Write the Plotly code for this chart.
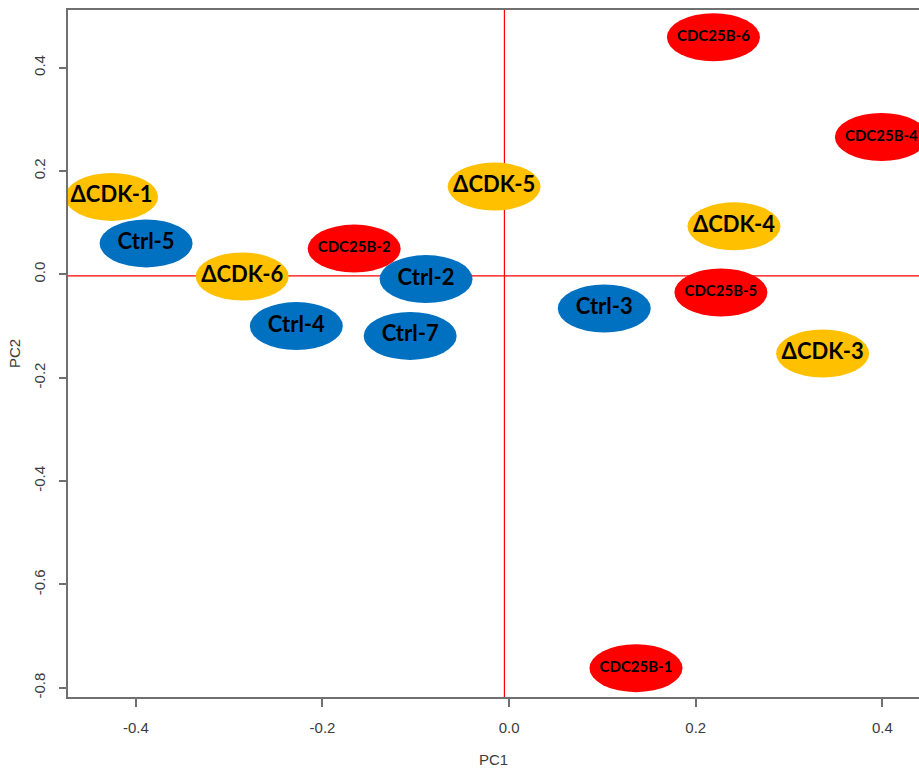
import plotly.graph_objects as go

# --- data ---
sample_names = [
    "ΔCDK-1", "Ctrl-5", "ΔCDK-6", "CDC25B-2", "Ctrl-2", "Ctrl-4", "Ctrl-7",
    "ΔCDK-5", "Ctrl-3", "CDC25B-6", "CDC25B-4", "ΔCDK-4", "CDC25B-5",
    "ΔCDK-3", "CDC25B-1",
]
sample_groups = [
    "dcdk", "ctrl", "dcdk", "cdc25b", "ctrl", "ctrl", "ctrl",
    "dcdk", "ctrl", "cdc25b", "cdc25b", "dcdk", "cdc25b",
    "dcdk", "cdc25b",
]
pc1 = [-0.426, -0.389, -0.286, -0.166, -0.089, -0.228, -0.106,
       -0.016, 0.102, 0.219, 0.399, 0.241, 0.227, 0.336, 0.136]
pc2 = [0.150, 0.060, -0.004, 0.050, -0.009, -0.100, -0.119,
       0.170, -0.066, 0.459, 0.266, 0.093, -0.035, -0.153, -0.762]

# reference lines (abline h / v)
hline_y = -0.003
vline_x = -0.005

x_tickvals = [-0.4, -0.2, 0.0, 0.2, 0.4]
x_ticktext = ["-0.4", "-0.2", "0.0", "0.2", "0.4"]
y_tickvals = [-0.8, -0.6, -0.4, -0.2, 0.0, 0.2, 0.4]
y_ticktext = ["-0.8", "-0.6", "-0.4", "-0.2", "0.0", "0.2", "0.4"]

group_colors = {"ctrl": "#0070C0", "dcdk": "#FFC000", "cdc25b": "#FF0000"}
group_font_size = {"ctrl": 22, "dcdk": 22, "cdc25b": 15}

axis_grey = "#707070"
text_grey = "#3c3c3c"

fig = go.Figure()

# crosshair lines first so the ellipses sit on top of them
shapes = [
    dict(type="line", xref="paper", x0=0, x1=1, yref="y", y0=hline_y, y1=hline_y,
         line=dict(color="#FF0000", width=1.2), layer="below"),
    dict(type="line", xref="x", x0=vline_x, x1=vline_x, yref="paper", y0=0, y1=1,
         line=dict(color="#FF0000", width=1.2), layer="below"),
]
for x, y, g in zip(pc1, pc2, sample_groups):
    shapes.append(dict(
        type="circle", xref="x", yref="y",
        xsizemode="pixel", ysizemode="pixel",
        xanchor=x, yanchor=y,
        x0=-46.5, x1=46.5, y0=-24, y1=24,
        fillcolor=group_colors[g], line=dict(width=0),
        layer="below",
    ))

fig.add_trace(
    go.Scatter(
        x=pc1,
        y=pc2,
        mode="text",
        text=sample_names,
        textposition="middle center",
        textfont=dict(
            family="Lato, 'Open Sans', sans-serif",
            size=[group_font_size[g] for g in sample_groups],
            color="black",
            weight="bold",
        ),
        hoverinfo="text",
        showlegend=False,
    )
)

fig.update_layout(
    width=919,
    height=769,
    margin=dict(l=68, r=0, t=10, b=72),
    paper_bgcolor="white",
    plot_bgcolor="white",
    shapes=shapes,
    xaxis=dict(
        range=[-0.4727, 0.4393],
        showgrid=False,
        zeroline=False,
        showline=True,
        mirror=True,
        linecolor=axis_grey,
        linewidth=1.5,
        ticks="outside",
        ticklen=8,
        tickwidth=1.5,
        tickcolor=axis_grey,
        tickvals=x_tickvals,
        ticktext=x_ticktext,
        ticklabelstandoff=8,
        tickfont=dict(family="Liberation Sans Narrow, Liberation Sans, Arial", size=15, color=text_grey),
        title=dict(text="PC1", standoff=20,
                   font=dict(family="Liberation Sans Narrow, Liberation Sans, Arial", size=15, color=text_grey)),
    ),
    yaxis=dict(
        range=[-0.8178, 0.5117],
        showgrid=False,
        zeroline=False,
        showline=True,
        mirror=False,
        linecolor=axis_grey,
        linewidth=1.5,
        ticks="outside",
        ticklen=7,
        tickwidth=1.5,
        tickcolor=axis_grey,
        tickvals=y_tickvals,
        ticktext=y_ticktext,
        tickangle=-90,
        ticklabelstandoff=8,
        tickfont=dict(family="Liberation Sans, Arial", size=15, color=text_grey),
        title=dict(text="PC2", standoff=7,
                   font=dict(family="Liberation Sans, Arial", size=15, color=text_grey)),
    ),
)

# drop the default page margin so the figure sits at the window's corner
fig.write_html(
    "out.html",
    config={"displayModeBar": False},
    post_script="document.body.style.margin='0';document.body.style.overflow='hidden';",
)
